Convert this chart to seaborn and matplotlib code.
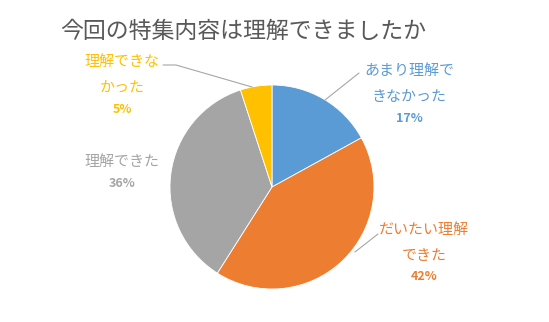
import matplotlib
matplotlib.use("Agg")
import matplotlib.pyplot as plt
import seaborn as sns

sns.set_theme(style="white")
plt.rcParams["font.family"] = ["Noto Sans CJK JP", "DejaVu Sans"]

# Survey results: "Did you understand this feature?"
title = "今回の特集内容は理解できましたか"
categories = ["あまり理解で\nきなかった", "だいたい理解\nできた", "理解できた", "理解できな\nかった"]
values = [17, 42, 36, 5]
colors = ["#5B9BD5", "#ED7D31", "#A5A5A5", "#FFC000"]

# label anchors: centre x and top-line y (pixel space, y up), plus leader lines
label_pos = [(409, 251), (424, 92), (122, 160), (122, 260)]
leaders = [[(359, 249), (325, 222)], [(378, 88), (355, 70)], None, [(163, 257), (176, 257), (252, 235)]]

fig = plt.figure(figsize=(5.49, 3.22), dpi=100)
ax = fig.add_axes([0, 0, 1, 1])

ax.pie(values, colors=colors, startangle=90, counterclock=False,
       center=(272, 135), radius=102,
       wedgeprops=dict(edgecolor="white", linewidth=0.6))
ax.set_xlim(0, 549)
ax.set_ylim(0, 322)
ax.set_aspect("equal")
ax.axis("off")

ax.text(243, 291, title, ha="center", va="center", fontsize=16.5, color="#595959")

total = sum(values)
for cat, v, c, (x, y), ld in zip(categories, values, colors, label_pos, leaders):
    yy = y
    for ln in cat.split("\n"):
        ax.text(x, yy, ln, ha="center", va="center", fontsize=10.8, color=c)
        yy -= 26
    ax.text(x, yy + 5, f"{round(v / total * 100)}%", ha="center", va="center",
            fontsize=9, color=c, fontweight="bold")
    if ld:
        xs, ys = zip(*ld)
        ax.plot(xs, ys, color="#A6A6A6", lw=0.8)

fig.savefig("out.png", dpi=100)
